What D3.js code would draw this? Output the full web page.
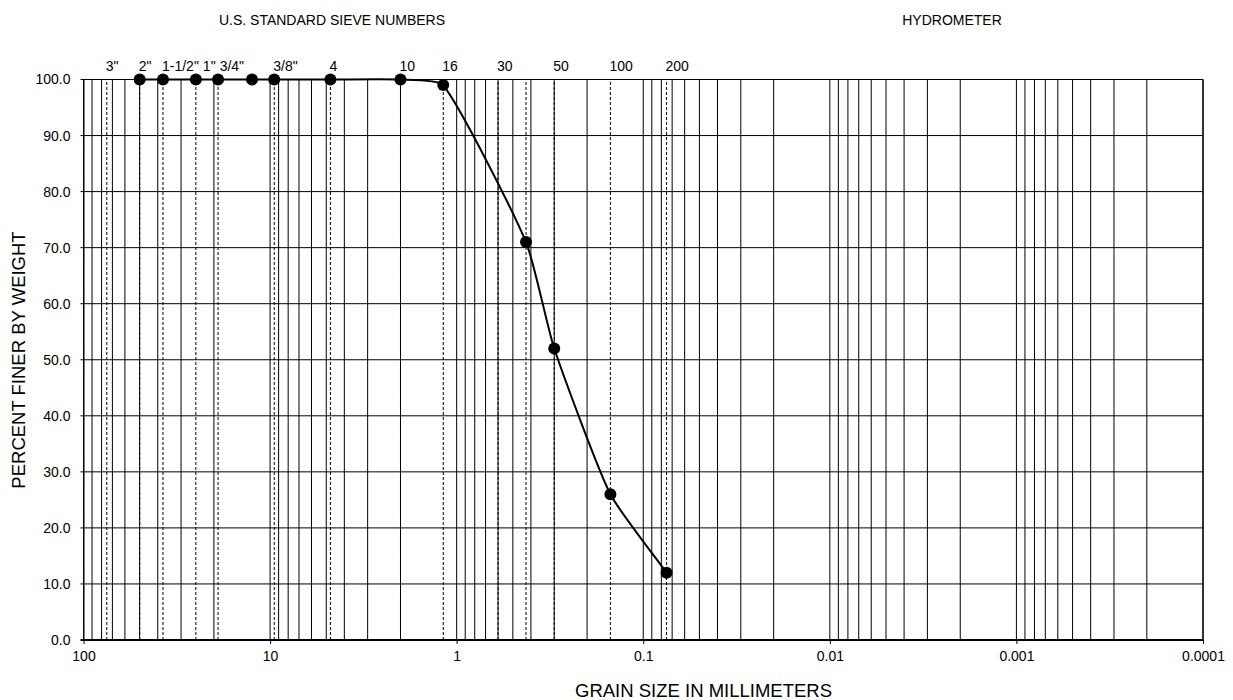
<!DOCTYPE html>
<html>
<head>
<meta charset="utf-8">
<script src="https://cdn.jsdelivr.net/npm/d3@7"></script>
<style>
  html, body { margin: 0; padding: 0; background: #fff; }
  svg { display: block; font-family: "Liberation Sans", Arial, sans-serif; }
</style>
</head>
<body>
<svg id="chart" width="1233" height="700"></svg>
<script>
// Gradation test results: sieve opening (mm) and percent passing
const sieveSizes   = [50, 37.5, 25, 19, 12.5, 9.5, 4.75, 2.0, 1.18, 0.425, 0.3, 0.15, 0.075];
const percentFiner = [100, 100, 100, 100, 100, 100, 100, 100, 99, 71, 52, 26, 12];

// Sieve designations printed along the top of the grid
const sieveLabelNames = ['3"', '2"', '1-1/2"', '1"', '3/4"', '3/8"', '4', '10', '16', '30', '50', '100', '200'];
const sieveLabelSizes = [75, 50, 37.5, 25, 19, 9.5, 4.75, 2.0, 1.18, 0.6, 0.3, 0.15, 0.075];

// Standard sieve openings marked with dashed reference lines
const dashedSizes = [75, 50, 37.5, 25, 19, 9.5, 4.75, 2.0, 1.18, 0.6, 0.425, 0.3, 0.15, 0.075];

// Axis ticks
const xTickValues = [100, 10, 1, 0.1, 0.01, 0.001, 0.0001];
const xTickLabels = ["100", "10", "1", "0.1", "0.01", "0.001", "0.0001"];
const yTickValues = [0, 10, 20, 30, 40, 50, 60, 70, 80, 90, 100];

const svg = d3.select("#chart");
const plot = { left: 83.5, right: 1203, top: 79.5, bottom: 640 };

const x = d3.scaleLog().domain([100, 0.0001]).range([plot.left, plot.right]);
const y = d3.scaleLinear().domain([0, 100]).range([plot.bottom, plot.top]);

// Log-cycle grid: every 1..9 x 10^n between 0.0001 and 100
const logGrid = [];
for (let e = -4; e <= 1; e++) {
  for (let k = 1; k <= 9; k++) logGrid.push(k * Math.pow(10, e));
}
logGrid.push(100);

const grid = svg.append("g");
grid.selectAll("line.v").data(logGrid).join("line")
  .attr("x1", d => x(d)).attr("x2", d => x(d))
  .attr("y1", y(0)).attr("y2", y(100))
  .attr("stroke", "#000").attr("stroke-width", 1);

grid.selectAll("line.d").data(dashedSizes).join("line")
  .attr("x1", d => x(d)).attr("x2", d => x(d))
  .attr("y1", y(0)).attr("y2", y(100))
  .attr("stroke", "#000").attr("stroke-width", 1)
  .attr("stroke-dasharray", "3,2");

grid.selectAll("line.h").data(yTickValues).join("line")
  .attr("x1", plot.left - 3).attr("x2", plot.right)
  .attr("y1", d => y(d)).attr("y2", d => y(d))
  .attr("stroke", "#000").attr("stroke-width", d => d === 0 ? 2 : 1);

// Right-hand frame edge
grid.append("line")
  .attr("x1", x(0.0001)).attr("x2", x(0.0001))
  .attr("y1", y(0)).attr("y2", y(100))
  .attr("stroke", "#000").attr("stroke-width", 1.2);

// Bottom axis
const xAxis = d3.axisBottom(x)
  .tickValues(xTickValues)
  .tickFormat((d, i) => xTickLabels[i])
  .tickSize(4).tickSizeOuter(0).tickPadding(7.5);
const gx = svg.append("g").attr("transform", `translate(0,${y(0)})`).call(xAxis);
gx.select(".domain").remove();
gx.selectAll("text").attr("font-size", 14).attr("font-family", "Liberation Sans, Arial").attr("fill", "#000");
gx.selectAll("line").attr("stroke", "#000");

// Left axis labels
const yAxis = d3.axisLeft(y)
  .tickValues(yTickValues)
  .tickFormat(d3.format(".1f"))
  .tickSize(0).tickPadding(13);
const gy = svg.append("g").attr("transform", `translate(${plot.left},0)`).call(yAxis);
gy.select(".domain").attr("stroke", "#000");
gy.selectAll("text").attr("font-size", 14).attr("font-family", "Liberation Sans, Arial").attr("fill", "#000");

// Sieve designations: left-aligned on their opening, nudged right when crowded
const sieveText = svg.append("g").selectAll("text").data(sieveLabelSizes).join("text")
  .attr("x", d => x(d) - 1)
  .attr("y", 70.5)
  .attr("font-size", 14)
  .attr("fill", "#000")
  .text((d, i) => sieveLabelNames[i]);
let lastRight = -Infinity;
sieveText.each(function (d) {
  const w = this.getComputedTextLength();
  const left = Math.max(x(d) - 1, lastRight + 4);
  d3.select(this).attr("x", left);
  lastRight = left + w;
});

// Gradation curve: smoothed Bezier through the points, with control arms
// scaled by the relative length of the neighbouring chords so short spans stay tight
const points = sieveSizes.map((s, i) => [s, percentFiner[i]]);
const px = points.map(d => [x(d[0]), y(d[1])]);
const dist = (a, b) => Math.hypot(b[0] - a[0], b[1] - a[1]);
const arm = 0.18;
const path = d3.path();
path.moveTo(px[0][0], px[0][1]);
for (let i = 0; i < px.length - 1; i++) {
  const p0 = px[i - 1] || px[i], p1 = px[i], p2 = px[i + 1], p3 = px[i + 2] || px[i + 1];
  const d01 = dist(p0, p1), d12 = dist(p1, p2), d23 = dist(p2, p3);
  const r1 = d12 / ((d01 + d12) || 1), r2 = d12 / ((d12 + d23) || 1);
  const c1 = [p1[0] + (p2[0] - p0[0]) * arm * r1, p1[1] + (p2[1] - p0[1]) * arm * r1];
  const c2 = [p2[0] - (p3[0] - p1[0]) * arm * r2, p2[1] - (p3[1] - p1[1]) * arm * r2];
  path.bezierCurveTo(c1[0], c1[1], c2[0], c2[1], p2[0], p2[1]);
}
svg.append("path")
  .attr("d", path.toString())
  .attr("fill", "none").attr("stroke", "#000").attr("stroke-width", 2);

svg.append("g").selectAll("circle").data(points).join("circle")
  .attr("cx", d => x(d[0])).attr("cy", d => y(d[1]))
  .attr("r", 6).attr("fill", "#000");

// Titles
svg.append("text").attr("x", 332).attr("y", 25).attr("text-anchor", "middle")
  .attr("font-size", 14).text("U.S. STANDARD SIEVE NUMBERS");
svg.append("text").attr("x", 952).attr("y", 25).attr("text-anchor", "middle")
  .attr("font-size", 14).text("HYDROMETER");
svg.append("text").attr("x", 832).attr("y", 697).attr("text-anchor", "end")
  .attr("font-size", 18.5).text("GRAIN SIZE IN MILLIMETERS");
svg.append("text").attr("transform", "translate(25,360) rotate(-90)").attr("text-anchor", "middle")
  .attr("font-size", 18.5).text("PERCENT FINER BY WEIGHT");
</script>
</body>
</html>
